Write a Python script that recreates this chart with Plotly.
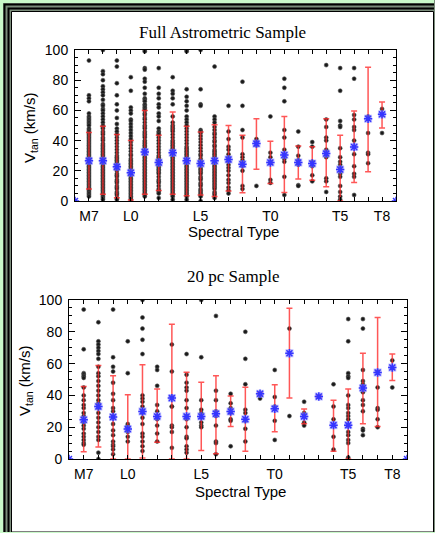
import plotly.graph_objects as go

W, H = 435, 533

# spectral subtypes: M7=7 ... L0=10 ... T0=20 ... T8=28
spt = [7, 8, 9, 10, 11, 12, 13, 14, 15, 16, 17, 18, 19, 20, 21, 22, 23, 24, 25, 26, 27, 28]
label_vals = [7, 10, 15, 20, 25, 28]
label_text = ["M7", "L0", "L5", "T0", "T5", "T8"]
edge_x = [6, 29]
edge_y = [0, 0]

# ---- Full astrometric sample ----
full_mean = [26.6, 26.6, 22.6, 18.7, 32.5, 25.5, 31.9, 26.6, 24.8, 26.6, 27.5,
             24.4, 38.0, 25.5, 30.5, 25.5, 24.8, 31.4, 20.9, 35.8, 54.5, 57.4]
full_lo = [7.9, 4.4, 2.2, 0.7, 4.4, 7.0, 4.4, 3.5, 4.0, 2.9, 6.6,
           5.5, 21.0, 11.6, 5.7, 14.5, 13.8, 9.5, 0.0, 12.3, 19.3, 48.4]
full_hi = [45.3, 49.5, 44.0, 40.0, 60.0, 43.5, 59.0, 49.5, 45.7, 50.5, 50.0,
           43.5, 54.5, 39.5, 56.0, 36.5, 36.0, 54.5, 43.5, 59.6, 88.6, 65.5]
full_pts = [
    [93, 70, 68, 66, 58, 56, 55, 54, 53, 52, 51, 50, 48, 47, 46, 45, 44, 43, 42, 41, 40, 39, 38, 37, 36, 35,
     34, 33, 32, 31, 30, 29, 28, 27, 26, 25, 24, 23, 22, 21, 20, 19, 18, 17, 16, 15, 14, 13, 12, 11, 10, 9,
     8, 7, 6, 5, 4, 3],  # M7
    [100, 86, 84, 80, 76, 74, 72, 70, 67, 64, 63, 61, 60, 58, 56, 54, 52, 50, 49, 48, 46, 45, 44, 42, 41, 40,
     38, 37, 36, 35, 34, 33, 32, 31, 30, 29, 28, 27, 26, 25, 24, 23, 22, 21, 20, 19, 18, 17, 16, 15, 14, 13,
     12, 11, 10, 9, 8, 7, 6, 5, 4, 3, 2, 1],  # M8
    [93, 89, 78, 70, 64, 60, 55, 51, 48, 46, 44, 42, 40, 38, 36, 34, 32, 30, 29, 28, 27, 26, 25, 24, 22, 21,
     20, 18, 17, 16, 14, 13, 12, 10, 9, 8, 6, 5, 4, 2, 1],  # M9
    [82, 73, 62, 60, 58, 54, 53, 51, 49, 47, 45, 43, 41, 39, 37, 35, 33, 31, 30, 28, 27, 26, 25, 24, 23, 22,
     21, 20, 19, 18, 17, 16, 15, 14, 13, 12, 11, 10, 9, 8, 7, 6, 5, 4, 3, 2, 1],  # L0
    [100, 99, 88, 87, 81, 79, 75, 71, 68, 67, 66, 64, 63, 62, 61, 60, 58, 57, 55, 54, 52, 50, 49, 48, 46, 45,
     44, 43, 42, 40, 39, 38, 37, 36, 35, 34, 33, 32, 31, 30, 29, 28, 27, 26, 25, 24, 23, 22, 21, 20, 19, 18,
     17, 16, 15, 14, 13, 12, 11, 10, 9, 8, 7, 6, 5, 4, 3],  # L1
    [88, 75, 71, 68, 64, 62, 58, 56, 53, 48, 46, 45, 44, 42, 40, 38, 36, 34, 32, 30, 29, 28, 27, 26, 25, 24,
     23, 22, 21, 20, 19, 18, 16, 14, 13, 12, 10, 8, 7, 6, 5, 2],  # L2
    [82, 73, 71, 68, 64, 56, 52, 50, 49, 48, 47, 46, 44, 42, 40, 39, 38, 37, 36, 35, 34, 33, 32, 31, 30, 29,
     28, 27, 26, 25, 24, 23, 22, 21, 20, 19, 18, 17, 16, 15, 14, 13, 12, 11, 10, 9, 8, 7, 6, 5, 4, 3, 1],  # L3
    [100, 99, 74, 69, 66, 63, 60, 56, 54, 52, 50, 48, 46, 44, 42, 40, 38, 36, 35, 34, 33, 32, 31, 30, 29, 28,
     27, 26, 25, 24, 23, 22, 21, 20, 19, 18, 17, 16, 15, 14, 13, 12, 11, 10, 9, 8, 7, 6, 5, 4, 3, 1],  # L4
    [100, 74, 64, 63, 47, 46, 45, 43, 41, 39, 37, 35, 33, 31, 30, 28, 27, 26, 25, 24, 22, 21, 20, 19, 18, 16,
     15, 14, 12, 11, 10, 8, 7, 6, 5, 4, 3, 0],  # L5
    [89, 56, 54, 52, 49, 47, 45, 44, 42, 40, 39, 37, 36, 34, 33, 32, 31, 30, 29, 28, 27, 26, 25, 24, 23, 22,
     21, 20, 19, 18, 17, 16, 15, 14, 13, 12, 11, 10, 9, 8, 6, 5, 4, 2],  # L6
    [63, 46, 41, 36, 34, 31, 29, 28, 26, 24, 22, 20, 17, 14, 12, 9, 7, 5],  # L7
    [79, 63, 47, 42, 31, 29, 27, 25, 23, 20, 10, 8],  # L8
    [41, 39, 37, 10],  # L9
    [56, 32, 29, 26, 25, 14, 12],  # T0
    [81, 75, 66, 47, 42, 34, 31, 28, 26, 16, 4],  # T1
    [46, 36, 30, 27, 25, 24, 10.5, 10],  # T2
    [39, 36, 26, 23, 17, 13],  # T3
    [90, 54, 49, 42, 40, 34, 31, 29, 15, 13, 6],  # T4
    [88, 73, 53, 50, 49, 35, 29, 26, 24, 22, 18, 16, 10, 6, 3, 1],  # T5
    [88, 81, 57, 54, 49, 47, 40, 36, 31, 23, 18, 16, 4],  # T6
    [56, 55, 45, 32, 31, 25],  # T7
    [61, 57, 45],  # T8
]

# ---- 20 pc sample ----
pc20_mean = [24.7, 33.0, 26.4, 18.8, 29.9, 26.8, 38.3, 26.8, 26.8, 28.5, 29.9,
             25.0, 41.0, 31.6, 66.5, 26.8, 39.3, 21.3, 21.3, 44.6, 54.4, 57.5]
pc20_lo = [4.6, 7.5, 0.0, 0.0, 0.6, 10.5, 0.0, 0.0, 5.4, 3.3, 20.5,
           4.8, 40.0, 17.2, 38.3, 22.2, 38.5, 4.8, 0.0, 22.2, 20.5, 49.4]
pc20_hi = [45.6, 58.8, 52.3, 40.4, 59.2, 44.0, 84.7, 54.6, 48.3, 52.3, 39.7,
           45.2, 42.0, 46.7, 94.8, 31.4, 40.1, 37.0, 44.0, 66.5, 89.0, 66.0]
pc20_pts = [
    [94, 69, 54, 53, 52, 51, 45, 40, 37, 34, 32, 29, 27, 25, 23, 21, 19, 16, 14, 12, 10, 9],  # M7
    [86, 74, 72, 70, 68, 66, 63, 58, 54, 52, 49, 46, 43, 40, 37, 35, 33, 32, 29, 26, 23, 20, 17, 14, 12,
     4, 0],  # M8
    [94, 64, 58, 55, 48, 41, 37, 32, 30, 27, 26, 22, 18, 15, 11, 9, 8, 6, 3],  # M9
    [74, 54, 22, 21, 20, 19, 17, 14, 11],  # L0
    [100, 89, 82, 75, 66, 40, 38, 36, 33, 30, 29, 26, 22, 16, 14, 11, 8, 5],  # L1
    [58, 56, 46, 34, 30, 27, 25, 21, 16, 11],  # L2
    [72, 55, 39, 33, 33, 21, 20, 17, 7],  # L3
    [66, 53, 48, 45, 43, 37, 32, 27, 25, 20, 14, 13, 8, 6, 4],  # L4
    [100, 64, 37, 31, 29, 26, 23, 21, 20],  # L5
    [90, 43, 37, 30, 27, 21, 11, 10, 3],  # L6
    [41, 35, 32, 29, 25, 24, 8],  # L7
    [80, 63, 47, 31, 29, 24, 19, 11],  # L8
    [41, 40, 38],  # L9
    [56, 39, 33, 24, 12],  # T0
    [82, 27],  # T1
    [36, 29, 28, 23, 21],  # T2
    [39],  # T3
    [47, 33, 25, 14, 6],  # T4
    [88, 74, 54, 52, 51, 40, 34, 32, 29, 27, 25, 21, 17, 15, 12, 10, 1],  # T5
    [88, 82, 56, 49, 47, 42, 37, 34, 30, 19, 18, 15],  # T6
    [55, 45, 32, 31, 25, 20],  # T7
    [62, 57, 45],  # T8
]


def px(x):
    return x / W


def py(y):
    return 1 - y / H


sans = "Liberation Sans, Arial, sans-serif"
serif = "Liberation Serif, Times New Roman, serif"
green = "#c9f9c9"
blue = "#3535ff"

fig = go.Figure()


def add_panel(fig, pts, mean, lo, hi, xa, ya):
    xs, ys = [], []
    for s, vals in zip(spt, pts):
        for v in vals:
            xs.append(s)
            ys.append(v)
    fig.add_trace(go.Scatter(
        x=xs, y=ys, mode="markers", xaxis=xa, yaxis=ya, showlegend=False,
        marker=dict(symbol="circle", size=4, color="#1a1a1a", line=dict(width=0.6, color="#555555"))))
    fig.add_trace(go.Scatter(
        x=spt, y=mean, mode="markers", xaxis=xa, yaxis=ya, showlegend=False,
        error_y=dict(type="data", symmetric=False,
                     array=[h - m for h, m in zip(hi, mean)],
                     arrayminus=[m - l for m, l in zip(mean, lo)],
                     color="rgba(255,45,45,0.8)", thickness=1.5, width=3),
        marker=dict(symbol="square", size=8, color="rgba(150,150,255,0.6)")))
    fig.add_trace(go.Scatter(
        x=spt, y=mean, mode="markers", xaxis=xa, yaxis=ya, showlegend=False,
        marker=dict(symbol="asterisk-open", size=7, color=blue, line=dict(width=1.5, color=blue))))
    fig.add_trace(go.Scatter(
        x=edge_x, y=edge_y, mode="markers", xaxis=xa, yaxis=ya, showlegend=False,
        marker=dict(symbol="asterisk-open", size=7, color=blue, line=dict(width=1.5, color=blue))))


add_panel(fig, full_pts, full_mean, full_lo, full_hi, "x", "y")
add_panel(fig, pc20_pts, pc20_mean, pc20_lo, pc20_hi, "x2", "y2")

xcommon = dict(range=[6, 29], tickvals=label_vals, ticktext=label_text, ticks="inside", ticklen=4,
               tickcolor="black", showline=True, linecolor="black", linewidth=1, mirror="ticks",
               showgrid=False, zeroline=False, automargin=False, ticklabelstandoff=2,
               minor=dict(ticks="inside", ticklen=4, tickcolor="black", tick0=0, dtick=1, showgrid=False),
               tickfont=dict(family=sans, size=14, color="black"))
ycommon = dict(range=[0, 100], tickvals=[0, 20, 40, 60, 80, 100], ticks="inside", ticklen=6,
               tickcolor="black", showline=True, linecolor="black", linewidth=1, mirror="ticks",
               showgrid=False, zeroline=False, automargin=False, ticklabelstandoff=3,
               minor=dict(ticks="inside", ticklen=3, tickcolor="black", dtick=5, showgrid=False),
               tickfont=dict(family=sans, size=14, color="black"))

fig.update_layout(
    width=W, height=H,
    margin=dict(l=0, r=0, t=0, b=0),
    paper_bgcolor=green,
    plot_bgcolor="white",
    xaxis=dict(xcommon, domain=[px(75), px(396)], anchor="y"),
    yaxis=dict(ycommon, domain=[py(201), py(50)], anchor="x"),
    xaxis2=dict(xcommon, domain=[px(69), px(407)], anchor="y2"),
    yaxis2=dict(ycommon, domain=[py(459), py(300)], anchor="x2"),
)

# framed panel
shapes = [
    dict(type="rect", x0=px(3), y0=py(3), x1=px(470), y1=py(570), fillcolor="#7a8c7a", line=dict(width=0)),
    dict(type="rect", x0=px(4.5), y0=py(4.5), x1=px(470), y1=py(570), line=dict(color="black", width=2)),
    dict(type="rect", x0=px(8.5), y0=py(8.5), x1=px(470), y1=py(570), line=dict(color="black", width=2)),
    dict(type="rect", x0=px(11.5), y0=py(11.5), x1=px(433.5), y1=py(532), fillcolor="white",
         line=dict(color="black", width=1)),
    dict(type="rect", x0=px(0), y0=py(532), x1=px(435), y1=py(540), fillcolor=green, line=dict(width=0)),
    dict(type="rect", x0=px(434), y0=py(0), x1=px(440), y1=py(11), fillcolor="#7a8c7a", line=dict(width=0)),
]
for s in shapes:
    s.update(xref="paper", yref="paper", layer="below")
fig.update_layout(shapes=shapes)

ann = [
    dict(text="Full Astrometric Sample", x=px(222), y=py(32), font=dict(family=serif, size=17)),
    dict(text="20 pc Sample", x=px(234), y=py(276), font=dict(family=serif, size=17)),
    dict(text="Spectral Type", x=px(234), y=py(231), font=dict(family=sans, size=15)),
    dict(text="Spectral Type", x=px(240), y=py(491), font=dict(family=sans, size=15)),
    dict(text="V<sub>tan</sub> (km/s)", x=px(30), y=py(128), textangle=-90, font=dict(family=sans, size=15)),
    dict(text="V<sub>tan</sub> (km/s)", x=px(25), y=py(381), textangle=-90, font=dict(family=sans, size=15)),
]
for a in ann:
    a.update(xref="paper", yref="paper", showarrow=False, xanchor="center", yanchor="middle")
    a["font"]["color"] = "black"
fig.update_layout(annotations=ann)

fig.write_html("out.html", config={"displayModeBar": False},
               post_script="document.body.style.margin='0px';")
